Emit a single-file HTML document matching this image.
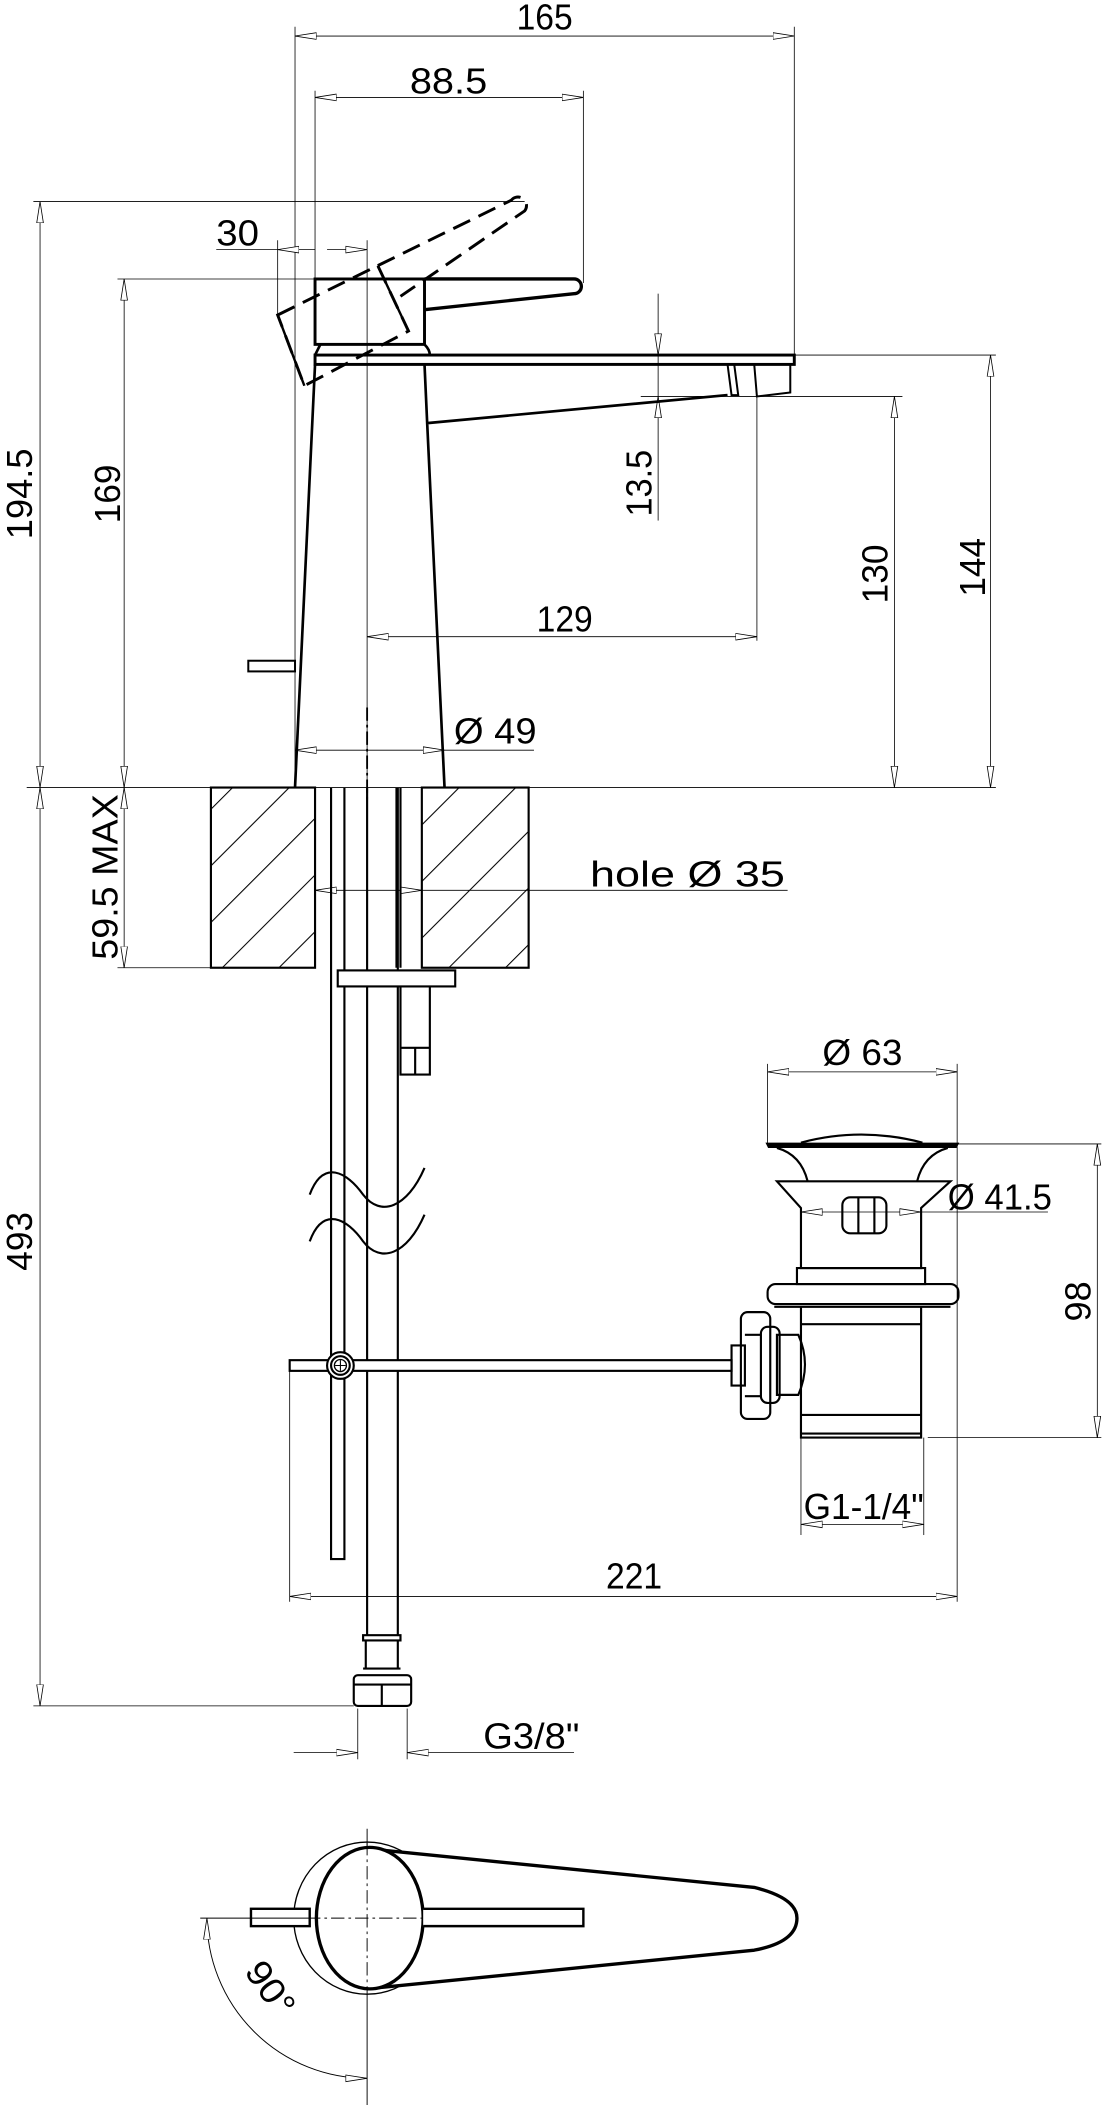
<!DOCTYPE html>
<html><head><meta charset="utf-8"><style>
html,body{margin:0;padding:0;background:#fff;}
svg{display:block;}
text{font-family:"Liberation Sans",sans-serif;fill:#000;}
</style></head><body>
<svg width="1108" height="2105" viewBox="0 0 830 1577" preserveAspectRatio="none" xmlns="http://www.w3.org/2000/svg">
<defs>
<marker id="a" viewBox="0 0 16 6" refX="16" refY="3" markerWidth="16" markerHeight="6" markerUnits="userSpaceOnUse" orient="auto-start-reverse">
<polygon points="0,0.5 16,3 0,5.5" fill="#fff" stroke="#000" stroke-width="0.6"/>
</marker>
<pattern id="h" patternUnits="userSpaceOnUse" width="30" height="30" patternTransform="rotate(45)">
<line x1="0" y1="0" x2="0" y2="30" stroke="#000" stroke-width="1.6"/>
</pattern>
</defs>
<g fill="none" stroke="#000" stroke-width="0.6">
<line x1="221" y1="20" x2="221" y2="590"/>
<line x1="595" y1="20" x2="595" y2="268"/>
<line x1="236" y1="68" x2="236" y2="209"/>
<line x1="437" y1="68" x2="437" y2="212"/>
<line x1="25" y1="151" x2="393" y2="151"/>
<line x1="88" y1="209" x2="236" y2="209"/>
<line x1="208" y1="180" x2="208" y2="236"/>
<line x1="275" y1="180" x2="275" y2="590"/>
<line x1="480" y1="297" x2="676" y2="297"/>
<line x1="595" y1="266" x2="746" y2="266"/>
<line x1="567" y1="297" x2="567" y2="480"/>
<line x1="20" y1="590" x2="746" y2="590"/>
<line x1="88" y1="725" x2="158" y2="725"/>
<line x1="25" y1="1278" x2="265" y2="1278"/>
<line x1="268" y1="1280" x2="268" y2="1318"/>
<line x1="305" y1="1280" x2="305" y2="1318"/>
<line x1="217" y1="1027" x2="217" y2="1200"/>
<line x1="717" y1="857" x2="717" y2="1200"/>
<line x1="575" y1="797" x2="575" y2="857"/>
<line x1="717" y1="797" x2="717" y2="857"/>
<line x1="717" y1="857" x2="825" y2="857"/>
<line x1="695" y1="1077" x2="825" y2="1077"/>
<line x1="600" y1="1077" x2="600" y2="1150"/>
<line x1="692" y1="1077" x2="692" y2="1150"/>
<line x1="221" y1="27" x2="595" y2="27" marker-start="url(#a)" marker-end="url(#a)"/>
<line x1="236" y1="73" x2="437" y2="73" marker-start="url(#a)" marker-end="url(#a)"/>
<line x1="30" y1="151" x2="30" y2="590" marker-start="url(#a)" marker-end="url(#a)"/>
<line x1="93" y1="209" x2="93" y2="590" marker-start="url(#a)" marker-end="url(#a)"/>
<line x1="162" y1="187" x2="208" y2="187"/>
<line x1="208" y1="187" x2="236" y2="187" marker-start="url(#a)"/>
<line x1="245" y1="187" x2="275" y2="187" marker-end="url(#a)"/>
<line x1="493" y1="220" x2="493" y2="266" marker-end="url(#a)"/>
<line x1="493" y1="390" x2="493" y2="297" marker-end="url(#a)"/>
<line x1="493" y1="266" x2="493" y2="297"/>
<line x1="275" y1="477" x2="567" y2="477" marker-start="url(#a)" marker-end="url(#a)"/>
<line x1="670" y1="297" x2="670" y2="590" marker-start="url(#a)" marker-end="url(#a)"/>
<line x1="742" y1="266" x2="742" y2="590" marker-start="url(#a)" marker-end="url(#a)"/>
<line x1="221" y1="562" x2="333" y2="562" marker-start="url(#a)" marker-end="url(#a)"/>
<line x1="333" y1="562" x2="400" y2="562"/>
<line x1="30" y1="590" x2="30" y2="1278" marker-start="url(#a)" marker-end="url(#a)"/>
<line x1="93" y1="590" x2="93" y2="725" marker-start="url(#a)" marker-end="url(#a)"/>
<line x1="236" y1="667" x2="316" y2="667" marker-start="url(#a)" marker-end="url(#a)"/>
<line x1="316" y1="667" x2="590" y2="667"/>
<line x1="220" y1="1313" x2="268" y2="1313" marker-end="url(#a)"/>
<line x1="430" y1="1313" x2="305" y2="1313" marker-end="url(#a)"/>
<line x1="217" y1="1196" x2="717" y2="1196" marker-start="url(#a)" marker-end="url(#a)"/>
<line x1="575" y1="803" x2="717" y2="803" marker-start="url(#a)" marker-end="url(#a)"/>
<line x1="600" y1="908" x2="690" y2="908" marker-start="url(#a)" marker-end="url(#a)"/>
<line x1="690" y1="908" x2="785" y2="908"/>
<line x1="822" y1="857" x2="822" y2="1077" marker-start="url(#a)" marker-end="url(#a)"/>
<line x1="600" y1="1142" x2="692" y2="1142" marker-start="url(#a)" marker-end="url(#a)"/>
<line x1="275" y1="530" x2="275" y2="600" stroke-width="1.4" stroke-dasharray="10,3,2,3"/>
</g>
<g fill="none" stroke="#000" stroke-width="2">
<rect x="236" y="209" width="82" height="49" stroke-width="2.2"/>
<path d="M318 209 H430 a5.5 5.5 0 0 1 0 11 L318 232" stroke-width="2.5"/>
<path d="M240 258 L236 266 M318 258 Q322 262 322 266"/>
<rect x="236" y="266" width="359" height="7" stroke-width="2.2"/>
<path d="M236 273 L221 590 M318 273 L320 317 L545 296 M320 317 L333 590"/>
<path d="M545 273 L548 296 L553 296 L550 273 M565 273 L567 297 L592 294 L592 273" stroke-width="1.5"/>
<rect x="186" y="495" width="35" height="8" stroke-width="1.5"/>
<path d="M208 236 L283 199 L306 248 L228 289 Z" stroke-dasharray="14,7" stroke-width="2.2"/>
<path d="M283 199 L383 150 a5.5 5.5 0 0 1 10 8 L300 222" stroke-dasharray="14,7" stroke-width="2.2"/>
<path d="M208 236 L228 289 M283 199 L306 248" stroke-width="1.8"/>
</g>
<rect x="158" y="590" width="78" height="135" fill="url(#h)" stroke="#000" stroke-width="1.6"/>
<rect x="316" y="590" width="80" height="135" fill="url(#h)" stroke="#000" stroke-width="1.6"/>
<g fill="none" stroke="#000" stroke-width="1.6">
<path d="M248 590 V1168 H258 V590"/>
<path d="M275 590 V1225 M298 590 V1225"/>
<path d="M297 590 V725 M300 590 V725"/>
<rect x="253" y="727" width="88" height="12" fill="#fff"/>
<path d="M300 739 V805 H322 V739 M300 785 H322 M311 785 V805"/>
<path d="M232 895 C242 868 260 878 272 895 C285 912 305 905 318 875"/>
<path d="M232 930 C242 903 260 913 272 930 C285 947 305 940 318 910"/>
<rect x="217" y="1019" width="331" height="8" fill="#fff"/>
<circle cx="255" cy="1023" r="10" fill="#fff"/>
<circle cx="255" cy="1023" r="7"/>
<circle cx="255" cy="1023" r="4.5" stroke-width="1"/>
<path d="M255 1019 V1027 M251 1023 H259" stroke-width="0.8"/>
<path d="M272 1225 H300 V1229 H272 Z M274 1229 V1250 M298 1229 V1250"/>
<rect x="265" y="1255" width="43" height="23" rx="3"/>
<path d="M272 1250 H300 M265 1262 H308 M286 1262 V1278"/>
</g>
<g fill="none" stroke="#000" stroke-width="1.6">
<path d="M575 857 H717 L716 859 H576 Z" stroke-width="2"/>
<path d="M600 856 Q645 844 691 856"/>
<path d="M582 860 Q600 865 605 885 M710 860 Q692 865 687 885"/>
<path d="M582 885 H712 L690 905 V950 H600 V905 Z"/>
<path d="M597 950 H693 V962 H597 Z"/>
<rect x="631" y="897" width="33" height="27" rx="6"/>
<path d="M643 897 V924 M655 897 V924"/>
<rect x="575" y="962" width="143" height="15" rx="6"/>
<path d="M580 979 H712"/>
<path d="M600 979 V1077 H690 V979 M600 992 H690 M600 1060 H690 M600 1074 H690"/>
<path d="M582 1000 H598 Q608 1022 598 1045 H582 Z"/>
<rect x="570" y="994" width="14" height="57" rx="5"/>
<rect x="555" y="983" width="22" height="80" rx="5"/>
<path d="M548 1008 H558 V1038 H548 Z M558 1000 H570 M558 1046 H570"/>
</g>
<g fill="none" stroke="#000">
<line x1="275" y1="1370" x2="275" y2="1577" stroke-width="0.7"/>
<ellipse cx="275" cy="1437" rx="55" ry="57" stroke-width="1"/>
<path d="M275 1385 L565 1414 Q597 1422 597 1437 Q597 1455 565 1461 L275 1490" stroke-width="2.5" fill="#fff"/>
<ellipse cx="277" cy="1437" rx="40" ry="53" stroke-width="2.5" fill="#fff"/>
<line x1="275" y1="1380" x2="275" y2="1490" stroke-width="0.7" stroke-dasharray="10,3,2,3"/>
<line x1="230" y1="1437" x2="345" y2="1437" stroke-width="0.7" stroke-dasharray="10,3,2,3"/>
<path d="M317 1430 H437 V1443 H317" stroke-width="1.8" fill="#fff"/>
<rect x="188" y="1430" width="44" height="13" stroke-width="1.8" fill="#fff"/>
<line x1="150" y1="1437" x2="232" y2="1437" stroke-width="0.7"/>
<path d="M155 1437 A120 120 0 0 0 275 1557" stroke-width="0.7" marker-start="url(#a)" marker-end="url(#a)"/>
</g>
<g font-size="27">
<text x="408" y="22" text-anchor="middle" textLength="42" lengthAdjust="spacingAndGlyphs">165</text>
<text x="336" y="70" text-anchor="middle" textLength="58" lengthAdjust="spacingAndGlyphs">88.5</text>
<text x="178" y="184" text-anchor="middle" textLength="32" lengthAdjust="spacingAndGlyphs">30</text>
<text transform="translate(24,370) rotate(-90)" text-anchor="middle" textLength="68" lengthAdjust="spacingAndGlyphs">194.5</text>
<text transform="translate(90,370) rotate(-90)" text-anchor="middle" textLength="44" lengthAdjust="spacingAndGlyphs">169</text>
<text transform="translate(488,362) rotate(-90)" text-anchor="middle" textLength="50" lengthAdjust="spacingAndGlyphs">13.5</text>
<text x="423" y="473" text-anchor="middle" textLength="42" lengthAdjust="spacingAndGlyphs">129</text>
<text transform="translate(665,430) rotate(-90)" text-anchor="middle" textLength="44" lengthAdjust="spacingAndGlyphs">130</text>
<text transform="translate(738,425) rotate(-90)" text-anchor="middle" textLength="44" lengthAdjust="spacingAndGlyphs">144</text>
<text x="340" y="557" textLength="62" lengthAdjust="spacingAndGlyphs">Ø 49</text>
<text transform="translate(88,657) rotate(-90)" text-anchor="middle" textLength="124" lengthAdjust="spacingAndGlyphs">59.5 MAX</text>
<text x="442" y="664" textLength="146" lengthAdjust="spacingAndGlyphs">hole  Ø 35</text>
<text transform="translate(24,930) rotate(-90)" text-anchor="middle" textLength="44" lengthAdjust="spacingAndGlyphs">493</text>
<text x="616" y="798" textLength="60" lengthAdjust="spacingAndGlyphs">Ø 63</text>
<text x="710" y="906" textLength="78" lengthAdjust="spacingAndGlyphs">Ø 41.5</text>
<text transform="translate(817,975) rotate(-90)" text-anchor="middle" textLength="30" lengthAdjust="spacingAndGlyphs">98</text>
<text x="602" y="1138" textLength="90" lengthAdjust="spacingAndGlyphs">G1-1/4"</text>
<text x="475" y="1190" text-anchor="middle" textLength="42" lengthAdjust="spacingAndGlyphs">221</text>
<text x="362" y="1310" textLength="72" lengthAdjust="spacingAndGlyphs">G3/8"</text>
<text transform="translate(195,1495) rotate(55)" text-anchor="middle" textLength="44" lengthAdjust="spacingAndGlyphs">90°</text>
</g>
</svg>
</body></html>
